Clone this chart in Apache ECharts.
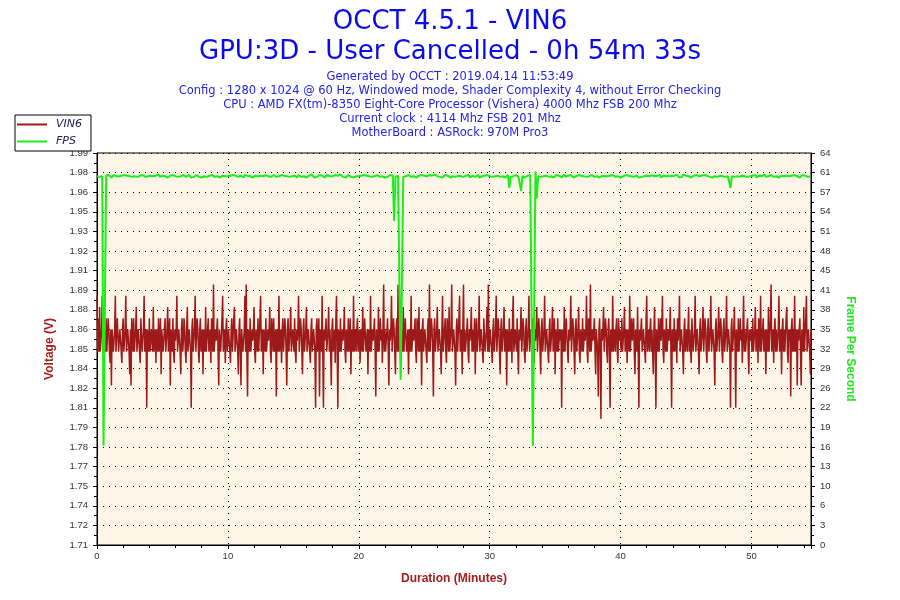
<!DOCTYPE html>
<html><head><meta charset="utf-8">
<script src="https://cdn.jsdelivr.net/npm/echarts@6.0.0/dist/echarts.min.js"></script>
<style>html,body{margin:0;padding:0;background:#fff}#chart{width:900px;height:600px}</style>
</head><body><div id="chart"></div>
<script>
const titleLines = ['OCCT 4.5.1 - VIN6', 'GPU:3D - User Cancelled - 0h 54m 33s'];
const infoLines = [
  'Generated by OCCT : 2019.04.14 11:53:49',
  'Config : 1280 x 1024 @ 60 Hz, Windowed mode, Shader Complexity 4, without Error Checking',
  'CPU : AMD FX(tm)-8350 Eight-Core Processor (Vishera) 4000 Mhz FSB 200 Mhz',
  'Current clock : 4114 Mhz FSB 201 Mhz',
  'MotherBoard : ASRock: 970M Pro3'
];
const seriesNames = ['VIN6', 'FPS'];
const axisNames = ['Duration (Minutes)', 'Voltage (V)', 'Frame Per Second'];
const vin6StepMin = 0.05;
const fpsStepMin = 0.1;
const durationMin = 54.55;
const xTickStep = 10;
const voltLabels = ['1.71','1.72','1.74','1.75','1.77','1.78','1.79','1.81','1.82','1.84','1.85','1.86','1.88','1.89','1.91','1.92','1.93','1.95','1.96','1.98','1.99'];
const voltMin = 1.71, voltMax = 1.99, voltStep = 0.014;
const fpsLabels = ['0','3','6','10','13','16','19','22','26','29','32','35','38','41','45','48','51','54','57','61','64'];
const fpsMin = 0, fpsMax = 64, fpsStep = 3.2;

// VIN6 samples (V), one every 0.05 min, 5 minutes per block
const vin6A = [1.888,1.848,1.872,1.848,1.880,1.848,1.856,1.864,1.888,1.848,1.848,1.864,1.864,1.848,1.872,1.848,1.848,1.872,1.864,1.848,
1.840,1.864,1.824,1.864,1.864,1.848,1.856,1.864,1.888,1.848,1.848,1.872,1.872,1.848,1.856,1.864,1.864,1.848,1.840,1.864,
1.872,1.848,1.848,1.864,1.888,1.848,1.856,1.864,1.864,1.848,1.832,1.864,1.824,1.872,1.864,1.848,1.872,1.848,1.848,1.864,
1.880,1.848,1.856,1.864,1.864,1.848,1.840,1.872,1.872,1.848,1.848,1.864,1.888,1.848,1.856,1.864,1.808,1.864,1.864,1.848,
1.872,1.848,1.848,1.864,1.864,1.848,1.880,1.848,1.856,1.864,1.840,1.864,1.864,1.848,1.872,1.848,1.848,1.872,1.832,1.864];
const vin6B = [1.864,1.848,1.848,1.864,1.872,1.848,1.856,1.864,1.880,1.848,1.848,1.872,1.824,1.864,1.864,1.848,1.872,1.848,1.840,1.864,
1.856,1.864,1.888,1.848,1.848,1.864,1.864,1.848,1.832,1.864,1.872,1.848,1.856,1.872,1.864,1.848,1.840,1.864,1.880,1.848,
1.848,1.864,1.864,1.848,1.808,1.864,1.872,1.848,1.856,1.864,1.888,1.848,1.848,1.872,1.864,1.848,1.840,1.864,1.872,1.848,
1.856,1.864,1.832,1.864,1.864,1.848,1.880,1.848,1.848,1.864,1.872,1.848,1.856,1.864,1.840,1.872,1.864,1.848,1.896,1.848,
1.848,1.864,1.856,1.864,1.872,1.848,1.824,1.864,1.864,1.848,1.848,1.872,1.888,1.848,1.856,1.864,1.840,1.864,1.872,1.848];
const vin6C = [1.856,1.864,1.864,1.848,1.840,1.864,1.872,1.848,1.848,1.872,1.880,1.848,1.856,1.864,1.864,1.848,1.832,1.864,1.872,1.848,
1.824,1.864,1.864,1.848,1.848,1.864,1.888,1.848,1.896,1.848,1.816,1.864,1.864,1.848,1.872,1.848,1.848,1.864,1.856,1.864,
1.880,1.848,1.840,1.864,1.864,1.848,1.872,1.848,1.848,1.872,1.888,1.848,1.856,1.864,1.832,1.864,1.864,1.848,1.872,1.848,
1.848,1.864,1.856,1.864,1.880,1.848,1.840,1.872,1.864,1.848,1.872,1.848,1.848,1.864,1.816,1.864,1.864,1.848,1.888,1.848,
1.856,1.864,1.840,1.864,1.872,1.848,1.848,1.872,1.864,1.848,1.824,1.864,1.872,1.848,1.856,1.864,1.880,1.848,1.848,1.864];
const vin6D = [1.864,1.848,1.872,1.848,1.840,1.864,1.856,1.864,1.888,1.848,1.848,1.872,1.864,1.848,1.832,1.864,1.872,1.848,1.856,1.864,
1.880,1.848,1.848,1.864,1.864,1.848,1.840,1.864,1.872,1.848,1.856,1.864,1.864,1.848,1.808,1.864,1.872,1.848,1.848,1.872,
1.816,1.864,1.864,1.848,1.888,1.848,1.808,1.864,1.856,1.864,1.872,1.848,1.848,1.864,1.880,1.848,1.864,1.848,1.824,1.864,
1.872,1.848,1.856,1.864,1.840,1.872,1.888,1.848,1.808,1.864,1.864,1.848,1.872,1.848,1.848,1.864,1.856,1.864,1.880,1.848,
1.840,1.864,1.864,1.848,1.872,1.848,1.848,1.872,1.832,1.864,1.864,1.848,1.888,1.848,1.856,1.864,1.848,1.864,1.872,1.848];
const vin6E = [1.856,1.864,1.840,1.864,1.864,1.848,1.880,1.848,1.848,1.872,1.872,1.848,1.856,1.864,1.832,1.864,1.864,1.848,1.888,1.848,
1.848,1.864,1.856,1.864,1.872,1.848,1.816,1.864,1.864,1.848,1.880,1.848,1.848,1.872,1.856,1.864,1.840,1.864,1.896,1.848,
1.864,1.848,1.848,1.864,1.872,1.848,1.824,1.864,1.856,1.864,1.888,1.848,1.848,1.872,1.864,1.848,1.832,1.864,1.872,1.848,
1.896,1.848,1.856,1.864,1.840,1.864,1.864,1.848,1.880,1.848,1.848,1.872,1.872,1.848,1.856,1.864,1.832,1.864,1.864,1.848,
1.888,1.848,1.848,1.864,1.856,1.864,1.872,1.848,1.840,1.872,1.864,1.848,1.880,1.848,1.848,1.864,1.824,1.864,1.872,1.848];
const vin6F = [1.856,1.864,1.864,1.848,1.840,1.864,1.872,1.848,1.896,1.848,1.848,1.872,1.864,1.848,1.816,1.864,1.872,1.848,1.856,1.864,
1.880,1.848,1.848,1.864,1.864,1.848,1.832,1.864,1.888,1.848,1.856,1.864,1.872,1.848,1.840,1.872,1.864,1.848,1.880,1.848,
1.848,1.864,1.896,1.848,1.856,1.864,1.864,1.848,1.824,1.864,1.872,1.848,1.848,1.872,1.888,1.848,1.856,1.864,1.832,1.864,
1.896,1.848,1.864,1.848,1.848,1.864,1.872,1.848,1.840,1.864,1.856,1.864,1.880,1.848,1.864,1.848,1.848,1.872,1.832,1.864,
1.872,1.848,1.856,1.864,1.888,1.848,1.848,1.864,1.864,1.848,1.840,1.872,1.872,1.848,1.856,1.864,1.880,1.848,1.896,1.848];
const vin6G = [1.848,1.864,1.864,1.848,1.840,1.864,1.872,1.848,1.856,1.864,1.888,1.848,1.848,1.872,1.864,1.848,1.832,1.864,1.872,1.848,
1.856,1.864,1.880,1.848,1.848,1.864,1.824,1.864,1.864,1.848,1.872,1.848,1.856,1.864,1.840,1.872,1.888,1.848,1.848,1.864,
1.864,1.848,1.872,1.848,1.832,1.864,1.856,1.864,1.880,1.848,1.848,1.872,1.864,1.848,1.840,1.864,1.872,1.848,1.856,1.864,
1.888,1.848,1.848,1.864,1.864,1.848,1.872,1.848,1.840,1.864,1.856,1.864,1.880,1.848,1.848,1.872,1.864,1.848,1.832,1.864,
1.872,1.848,1.856,1.864,1.888,1.848,1.848,1.864,1.864,1.848,1.840,1.864,1.872,1.848,1.856,1.864,1.880,1.848,1.848,1.872];
const vin6H = [1.832,1.864,1.864,1.848,1.872,1.848,1.848,1.864,1.856,1.864,1.808,1.864,1.864,1.848,1.880,1.848,1.848,1.872,1.872,1.848,
1.840,1.864,1.856,1.864,1.888,1.848,1.848,1.872,1.864,1.848,1.832,1.864,1.872,1.848,1.856,1.864,1.880,1.848,1.840,1.864,
1.864,1.848,1.872,1.848,1.848,1.864,1.856,1.864,1.888,1.848,1.840,1.872,1.864,1.848,1.896,1.848,1.848,1.864,1.856,1.864,
1.872,1.848,1.832,1.864,1.864,1.848,1.816,1.864,1.872,1.848,1.800,1.864,1.856,1.864,1.880,1.848,1.848,1.872,1.864,1.848,
1.840,1.864,1.872,1.848,1.808,1.864,1.864,1.848,1.888,1.848,1.856,1.864,1.848,1.864,1.872,1.848,1.840,1.872,1.856,1.864];
const vin6I = [1.864,1.848,1.872,1.848,1.848,1.864,1.880,1.848,1.856,1.864,1.840,1.864,1.864,1.848,1.888,1.848,1.848,1.872,1.856,1.864,
1.872,1.848,1.832,1.864,1.864,1.848,1.880,1.848,1.808,1.864,1.856,1.864,1.872,1.848,1.848,1.864,1.864,1.848,1.840,1.872,
1.888,1.848,1.856,1.864,1.848,1.864,1.872,1.848,1.864,1.848,1.832,1.864,1.880,1.848,1.808,1.864,1.864,1.848,1.872,1.848,
1.848,1.872,1.856,1.864,1.888,1.848,1.840,1.864,1.864,1.848,1.872,1.848,1.848,1.864,1.856,1.864,1.880,1.848,1.808,1.864,
1.864,1.848,1.872,1.848,1.848,1.864,1.840,1.872,1.856,1.864,1.888,1.848,1.848,1.864,1.864,1.848,1.832,1.864,1.872,1.848];
const vin6J = [1.856,1.864,1.848,1.864,1.880,1.848,1.864,1.848,1.840,1.872,1.872,1.848,1.856,1.864,1.888,1.848,1.848,1.864,1.864,1.848,
1.832,1.864,1.872,1.848,1.856,1.864,1.880,1.848,1.848,1.872,1.864,1.848,1.840,1.864,1.872,1.848,1.856,1.864,1.888,1.848,
1.848,1.864,1.864,1.848,1.824,1.864,1.872,1.848,1.856,1.864,1.880,1.848,1.848,1.872,1.864,1.848,1.840,1.864,1.872,1.848,
1.856,1.864,1.888,1.848,1.848,1.864,1.864,1.848,1.808,1.864,1.872,1.848,1.856,1.864,1.880,1.848,1.808,1.864,1.864,1.848,
1.872,1.848,1.848,1.872,1.856,1.864,1.840,1.864,1.888,1.848,1.864,1.848,1.848,1.864,1.872,1.848,1.832,1.864,1.856,1.864];
const vin6K = [1.864,1.848,1.872,1.848,1.848,1.864,1.880,1.848,1.856,1.864,1.840,1.872,1.864,1.848,1.888,1.848,1.848,1.864,1.872,1.848,
1.856,1.864,1.832,1.864,1.864,1.848,1.880,1.848,1.848,1.872,1.896,1.848,1.856,1.864,1.840,1.864,1.872,1.848,1.864,1.848,
1.848,1.864,1.888,1.848,1.856,1.864,1.832,1.864,1.872,1.848,1.864,1.848,1.848,1.872,1.880,1.848,1.840,1.864,1.856,1.864,
1.816,1.864,1.872,1.848,1.864,1.848,1.888,1.848,1.848,1.864,1.824,1.864,1.856,1.864,1.872,1.848,1.824,1.864,1.864,1.848,
1.880,1.848,1.848,1.872,1.888,1.848,1.856,1.864,1.864,1.848,1.832,1.864];

// FPS samples, one every 0.1 min
const fpsA = [60.2,60.3,60.1,60.4,60.2,16.2,16.2,60.3,60.1,60.4,
60.2,60.0,60.3,60.4,60.1,60.2,60.5,60.2,60.0,60.3,
60.1,60.4,60.2,60.3,60.0,60.2,60.4,60.1,60.3,60.2,
60.5,60.1,60.2,60.3,60.0,60.4,60.2,60.1,60.3,60.2,
60.0,60.3,60.4,60.2,60.1,60.3,60.2,60.5,60.1,60.2];
const fpsB = [60.3,60.1,60.2,60.4,60.0,60.2,60.3,60.1,60.4,60.2,
60.2,60.5,60.1,60.3,60.2,60.0,60.4,60.2,60.1,60.3,
60.4,60.2,60.0,60.3,60.1,60.2,60.4,60.3,60.1,60.2,
60.0,60.3,60.2,60.5,60.1,60.2,60.3,60.0,60.4,60.2,
60.1,60.3,60.2,60.4,60.0,60.2,60.3,60.1,60.2,60.4];
const fpsC = [60.2,60.0,60.3,60.1,60.4,60.2,60.3,60.5,60.1,60.2,
60.3,60.1,60.0,60.4,60.2,60.3,60.1,60.2,60.4,60.0,
60.2,60.3,60.1,60.2,60.5,60.3,60.0,60.2,60.1,60.4,
60.3,60.2,60.0,60.1,60.3,60.4,60.2,60.1,60.3,60.2,
60.0,60.4,60.2,60.3,60.1,60.2,60.5,60.1,60.3,60.2];
const fpsD = [60.1,60.3,60.2,60.0,60.4,60.2,60.1,60.3,60.2,60.4,
60.0,60.2,60.3,60.1,60.5,60.2,60.0,60.3,60.1,60.2,
60.4,60.1,60.3,60.2,60.0,60.3,60.4,60.1,60.2,60.3,
60.2,60.0,60.4,60.1,60.3,60.2,60.5,60.2,60.1,60.3,
60.0,60.2,60.4,60.3,60.1,60.2,60.0,60.3,60.2,60.4];
const fpsE = [60.2,60.1,60.3,60.0,60.4,60.2,60.3,60.1,60.2,60.5,
60.1,60.3,60.2,60.0,60.4,60.2,60.1,60.3,60.2,60.4,
60.0,60.3,60.1,60.2,60.4,60.2,60.3,52.9,60.1,60.2,
60.3,60.2,27.0,43.5,60.1,60.3,60.2,60.0,60.4,60.2,
60.1,60.3,60.2,60.4,60.0,60.2,60.3,60.1,60.4,60.2];
const fpsF = [60.3,60.1,60.2,60.0,60.4,60.2,60.3,60.1,60.5,60.2,
60.2,60.4,60.1,60.3,60.0,60.2,60.4,60.1,60.3,60.2,
60.0,60.3,60.2,60.4,60.1,60.2,60.3,60.0,60.2,60.4,
60.1,60.2,60.3,60.1,60.4,60.0,60.2,60.3,60.5,60.1,
60.2,60.4,60.0,60.3,60.2,60.1,60.3,60.2,60.4,60.1];
const fpsG = [60.2,60.3,60.1,60.4,60.2,60.0,60.3,60.2,60.1,60.4,
60.2,60.3,60.0,60.2,60.4,58.3,60.1,60.3,60.2,60.0,
60.4,60.2,60.1,60.3,57.8,60.2,60.4,60.0,60.2,60.3,
60.1,60.4,60.2,16.2,16.2,61.0,56.6,60.2,60.3,60.1,
60.4,60.2,60.0,60.3,60.2,60.1,60.4,60.2,60.3,60.0];
const fpsH = [60.2,60.4,60.1,60.3,60.2,60.0,60.3,60.5,60.1,60.2,
60.3,60.1,60.4,60.2,60.0,60.3,60.2,60.1,60.4,60.2,
60.3,60.0,60.2,60.4,60.1,60.3,60.2,60.0,60.4,60.2,
60.1,60.3,60.2,60.5,60.0,60.2,60.3,60.1,60.2,60.4,
60.2,60.1,60.3,60.0,60.4,60.2,60.1,60.3,60.2,60.4];
const fpsI = [60.0,60.3,60.2,60.1,60.4,60.2,60.3,60.0,60.2,60.5,
60.1,60.2,60.3,60.4,60.0,60.2,60.1,60.3,60.2,60.4,
60.3,60.1,60.2,60.0,60.4,60.3,60.2,60.1,60.3,60.2,
60.4,60.0,60.2,60.3,60.1,60.2,60.4,60.3,60.0,60.2,
60.1,60.3,60.2,60.4,60.2,60.0,60.3,60.1,60.5,60.2];
const fpsJ = [60.3,60.1,60.2,60.4,60.0,60.2,60.3,60.1,60.4,60.2,
60.2,60.0,60.3,60.1,60.4,60.2,60.3,60.5,60.1,60.2,
60.0,60.3,60.2,60.4,60.1,60.2,60.3,60.0,60.2,60.4,
60.1,60.3,60.2,60.0,58.3,60.2,60.4,60.1,60.3,60.2,
60.4,60.1,60.2,60.3,60.0,60.2,60.4,60.1,60.3,60.2];
const fpsK = [60.2,60.3,60.1,60.4,60.0,60.2,60.3,60.1,60.2,60.4,
60.5,60.1,60.3,60.2,60.0,60.4,60.2,60.1,60.3,60.2,
60.4,60.0,60.2,60.3,60.1,60.2,60.4,60.3,60.1,60.2,
60.0,60.3,60.2,60.4,60.1,60.2,60.3,60.0,60.2,60.4,
60.1,60.3,60.2,60.1,60.3,60.2];

const vin6 = [].concat(vin6A, vin6B, vin6C, vin6D, vin6E, vin6F, vin6G, vin6H, vin6I, vin6J, vin6K);
const fps = [].concat(fpsA, fpsB, fpsC, fpsD, fpsE, fpsF, fpsG, fpsH, fpsI, fpsJ, fpsK);
const toPairs = (arr, step) => arr.map((v, i) => [Math.round(i * step * 1000) / 1000, v]);

const colors = { vin6: '#9e1a1a', fps: '#19f019', title: '#0a0af0', info: '#2424e8', axisName: '#a81c1c', fpsName: '#22e822' };
const tickFont = { fontFamily: 'Liberation Sans', fontSize: 9.5, color: '#333' };

const chart = echarts.init(document.getElementById('chart'));
chart.setOption({
  animation: false,
  backgroundColor: '#ffffff',
  title: {
    text: titleLines.join('\n'),
    subtext: infoLines.join('\n'),
    left: 'center', top: 2, itemGap: 3,
    textStyle: { fontFamily: 'DejaVu Sans', fontSize: 26, fontWeight: 'normal', color: colors.title, lineHeight: 30 },
    subtextStyle: { fontFamily: 'DejaVu Sans', fontSize: 11.5, color: colors.info, lineHeight: 14 }
  },
  legend: {
    data: seriesNames, orient: 'vertical', left: 15, top: 115,
    icon: 'rect', itemWidth: 30, itemHeight: 2, itemGap: 6,
    padding: [4, 9, 4, 2],
    backgroundColor: '#ffffff', borderColor: '#000', borderWidth: 1, borderRadius: 0,
    textStyle: { fontFamily: 'DejaVu Sans', fontSize: 11, fontStyle: 'italic', color: '#202050', padding: [0, 0, 0, 4] },
    z: 10
  },
  grid: { left: 97, right: 89, top: 153, bottom: 55, show: true, borderColor: '#000', borderWidth: 1, backgroundColor: '#fdf6e8' },
  xAxis: {
    type: 'value', min: 0, max: durationMin, interval: xTickStep,
    name: axisNames[0], nameLocation: 'middle', nameGap: 28,
    nameTextStyle: { fontFamily: 'Liberation Sans', fontSize: 12, fontWeight: 'bold', color: colors.axisName },
    axisLine: { lineStyle: { color: '#000', width: 1 } },
    axisTick: { length: 4, lineStyle: { color: '#000' } },
    minorTick: { show: true, splitNumber: 5, length: 3, lineStyle: { color: '#000' } },
    axisLabel: Object.assign({ showMaxLabel: false, margin: 6 }, tickFont),
    splitLine: { show: true, lineStyle: { color: '#000', type: [1, 5], width: 1 } }
  },
  yAxis: [{
    type: 'value', min: voltMin, max: voltMax, interval: voltStep, position: 'left',
    name: axisNames[1], nameLocation: 'middle', nameGap: 41, nameRotate: 90,
    nameTextStyle: { fontFamily: 'Liberation Sans', fontSize: 12, fontWeight: 'bold', color: colors.axisName },
    axisLine: { show: true, lineStyle: { color: '#000', width: 1 } },
    axisTick: { show: true, length: 4, lineStyle: { color: '#000' } },
    minorTick: { show: true, splitNumber: 2, length: 3, lineStyle: { color: '#000' } },
    axisLabel: Object.assign({ margin: 9, formatter: v => voltLabels[Math.round((v - voltMin) / voltStep)] || '' }, tickFont),
    splitLine: { show: true, lineStyle: { color: '#000', type: [1, 5], width: 1 } }
  }, {
    type: 'value', min: fpsMin, max: fpsMax, interval: fpsStep, position: 'right',
    name: axisNames[2], nameLocation: 'middle', nameGap: 33, nameRotate: -90,
    nameTextStyle: { fontFamily: 'Liberation Sans', fontSize: 12, fontWeight: 'bold', color: colors.fpsName },
    axisLine: { show: true, lineStyle: { color: '#000', width: 1 } },
    axisTick: { show: true, length: 4, lineStyle: { color: '#000' } },
    minorTick: { show: true, splitNumber: 2, length: 3, lineStyle: { color: '#000' } },
    axisLabel: Object.assign({ margin: 9, formatter: v => fpsLabels[Math.round((v - fpsMin) / fpsStep)] || '' }, tickFont),
    splitLine: { show: false }
  }],
  series: [{
    name: seriesNames[0], type: 'line', yAxisIndex: 0, data: toPairs(vin6, vin6StepMin),
    symbol: 'none', sampling: 'none', lineStyle: { color: colors.vin6, width: 1.5 }, itemStyle: { color: colors.vin6 }, z: 2
  }, {
    name: seriesNames[1], type: 'line', yAxisIndex: 1, data: toPairs(fps, fpsStepMin),
    symbol: 'none', sampling: 'none', lineStyle: { color: colors.fps, width: 2 }, itemStyle: { color: colors.fps }, z: 3
  }]
});
</script>
</body></html>
